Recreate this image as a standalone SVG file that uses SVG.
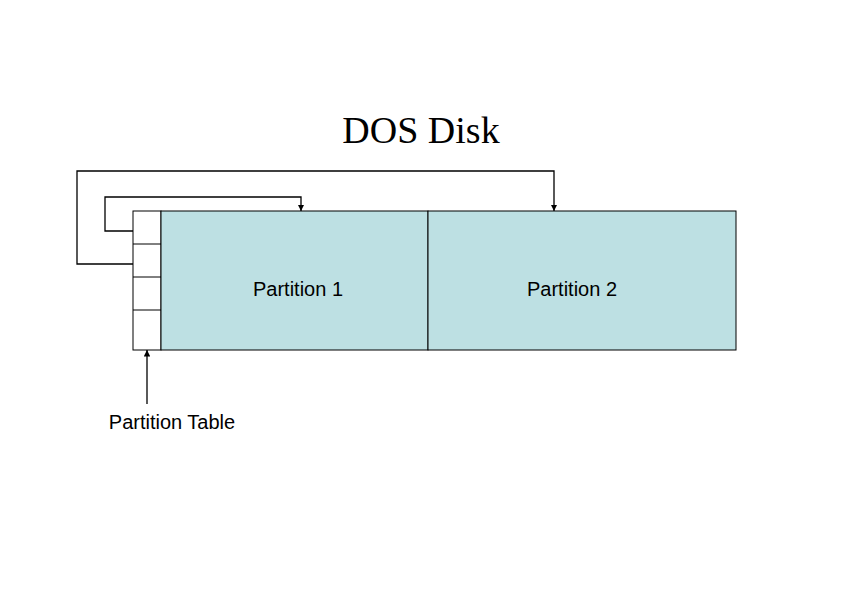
<svg xmlns="http://www.w3.org/2000/svg" width="842" height="595" viewBox="0 0 842 595">
<style>
.b{stroke:#000;stroke-width:1}
.p{fill:#bde0e3}
.t{font-family:"Liberation Sans",Arial,sans-serif;font-size:20px;fill:#000;text-anchor:middle}
.c{fill:none;stroke:#000;stroke-width:1.3}
</style>
<defs><marker id="a" viewBox="0 0 10 10" refX="10" refY="5" markerWidth="5" markerHeight="5" orient="auto"><path d="M0,0L10,5L0,10z" fill="#000"/></marker></defs>
<rect width="842" height="595" fill="#fff"/>
<text x="421" y="143" style="font-family:'Liberation Serif',serif;font-size:38px;text-anchor:middle">DOS Disk</text>
<g id="table"><rect class="b" x="133" y="211" width="28" height="139" fill="#fff"/>
<path class="b" d="M133,244H161M133,277H161M133,310H161"/></g>
<g id="p1"><rect class="b p" x="161" y="211" width="267" height="139"/><text class="t" x="298" y="296">Partition 1</text></g>
<g id="p2"><rect class="b p" x="428" y="211" width="308" height="139"/><text class="t" x="572" y="296">Partition 2</text></g>
<g id="pt"><text class="t" x="172" y="429">Partition Table</text></g>
<g id="connectors">
<path class="c" d="M133,264H77V171H554V211" marker-end="url(#a)"/>
<path class="c" d="M133,231H105V197H301V211" marker-end="url(#a)"/>
<path class="c" d="M147,404V350" marker-end="url(#a)"/>
</g>
</svg>
